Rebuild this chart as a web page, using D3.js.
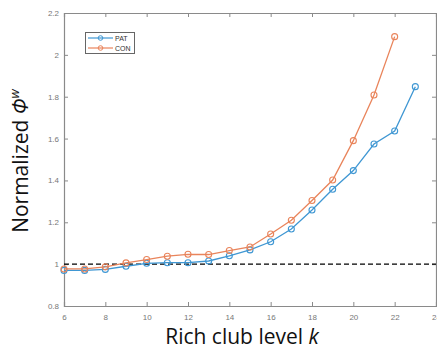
<!DOCTYPE html>
<html><head><meta charset="utf-8">
<script src="https://cdn.jsdelivr.net/npm/d3@7"></script>
<style>body{margin:0;background:#fff;} svg{display:block;}</style>
</head><body>
<svg id="c" width="437" height="349"></svg>
<script>
const kPAT = [6,7,8,9,10,11,12,13,14,15,16,17,18,19,20,21,22,23];
const valPAT = [0.970,0.970,0.975,0.990,1.004,1.007,1.007,1.015,1.040,1.068,1.107,1.168,1.259,1.358,1.447,1.574,1.636,1.848];
const kCON = [6,7,8,9,10,11,12,13,14,15,16,17,18,19,20,21,22];
const valCON = [0.977,0.977,0.987,1.006,1.022,1.038,1.047,1.046,1.065,1.082,1.144,1.210,1.304,1.402,1.590,1.808,2.087];
const xTicks = [6,8,10,12,14,16,18,20,22,24];
const yTicks = [0.8,1,1.2,1.4,1.6,1.8,2,2.2];
const seriesNames = ["PAT","CON"];
const colors = ["#3f97d3","#e9845b"];

const svg = d3.select("#c");
const L=64, R=436, T=13, B=306;
const x = d3.scaleLinear().domain([6,24]).range([L,R]);
const y = d3.scaleLinear().domain([0.8,2.2]).range([B,T]);
const axisCol = "#8a8a8a";
const tickFont = "Liberation Sans, Arial, sans-serif";

// axes
const gx = svg.append("g").attr("transform",`translate(0,${B})`)
  .call(d3.axisBottom(x).tickValues(xTicks).tickSize(-4).tickPadding(8).tickFormat(d3.format("d")));
const gxt = svg.append("g").attr("transform",`translate(0,${T})`)
  .call(d3.axisTop(x).tickValues(xTicks).tickSize(-4).tickFormat(""));
const gy = svg.append("g").attr("transform",`translate(${L},0)`)
  .call(d3.axisLeft(y).tickValues(yTicks).tickSize(-4).tickPadding(5).tickFormat(d=>d3.format("")(+d.toFixed(1))));
const gyr = svg.append("g").attr("transform",`translate(${R},0)`)
  .call(d3.axisRight(y).tickValues(yTicks).tickSize(-4).tickFormat(""));
[gx,gxt,gy,gyr].forEach(g=>{
  g.selectAll("path").attr("stroke",axisCol).attr("stroke-width",1.2);
  g.selectAll("line").attr("stroke",axisCol);
  g.selectAll("text").attr("fill","#777").attr("font-size",8).attr("font-family",tickFont);
});

// dashed reference line
svg.append("line").attr("x1",x(6)).attr("x2",x(24)).attr("y1",y(1)).attr("y2",y(1))
  .attr("stroke","#000").attr("stroke-width",1.4).attr("stroke-dasharray","5,3");

const line = d3.line().x(d=>x(d[0])).y(d=>y(d[1]));
const data = [d3.zip(kPAT,valPAT), d3.zip(kCON,valCON)];
data.forEach((s,i)=>{
  svg.append("path").datum(s).attr("d",line).attr("fill","none")
    .attr("stroke",colors[i]).attr("stroke-width",1.3);
  svg.selectAll(null).data(s).enter().append("circle")
    .attr("cx",d=>x(d[0])).attr("cy",d=>y(d[1])).attr("r",3)
    .attr("fill","none").attr("stroke",colors[i]).attr("stroke-width",1.1);
});

// legend
const lg = svg.append("g");
lg.append("rect").attr("x",85.5).attr("y",32.5).attr("width",49).attr("height",21)
  .attr("fill","#fff").attr("stroke","#666").attr("stroke-width",1);
seriesNames.forEach((n,i)=>{
  const yy = 38 + i*10;
  lg.append("line").attr("x1",88).attr("x2",113).attr("y1",yy).attr("y2",yy)
    .attr("stroke",colors[i]).attr("stroke-width",1.2);
  lg.append("circle").attr("cx",100.5).attr("cy",yy).attr("r",2.3)
    .attr("fill","none").attr("stroke",colors[i]).attr("stroke-width",1);
  lg.append("text").attr("x",115).attr("y",yy+2.5).text(n)
    .attr("font-size",7).attr("font-family",tickFont).attr("fill","#333");
});

// axis titles
const titleFont = "Open Sans, Lato, sans-serif";
const xt = svg.append("text").attr("x",242).attr("y",344).attr("text-anchor","middle")
  .attr("font-family",titleFont).attr("font-size",21).attr("fill","#111");
xt.append("tspan").text("Rich club level ");
xt.append("tspan").attr("font-style","italic").text("k");

const yt = svg.append("text").attr("transform","translate(28,161) rotate(-90)")
  .attr("text-anchor","middle").attr("font-family",titleFont).attr("font-size",21).attr("fill","#111");
yt.append("tspan").text("Normalized ");
yt.append("tspan").attr("font-style","italic").text("Φ");
yt.append("tspan").attr("font-style","italic").attr("font-size",13).attr("dy",-9).text("w");
</script>
</body></html>
